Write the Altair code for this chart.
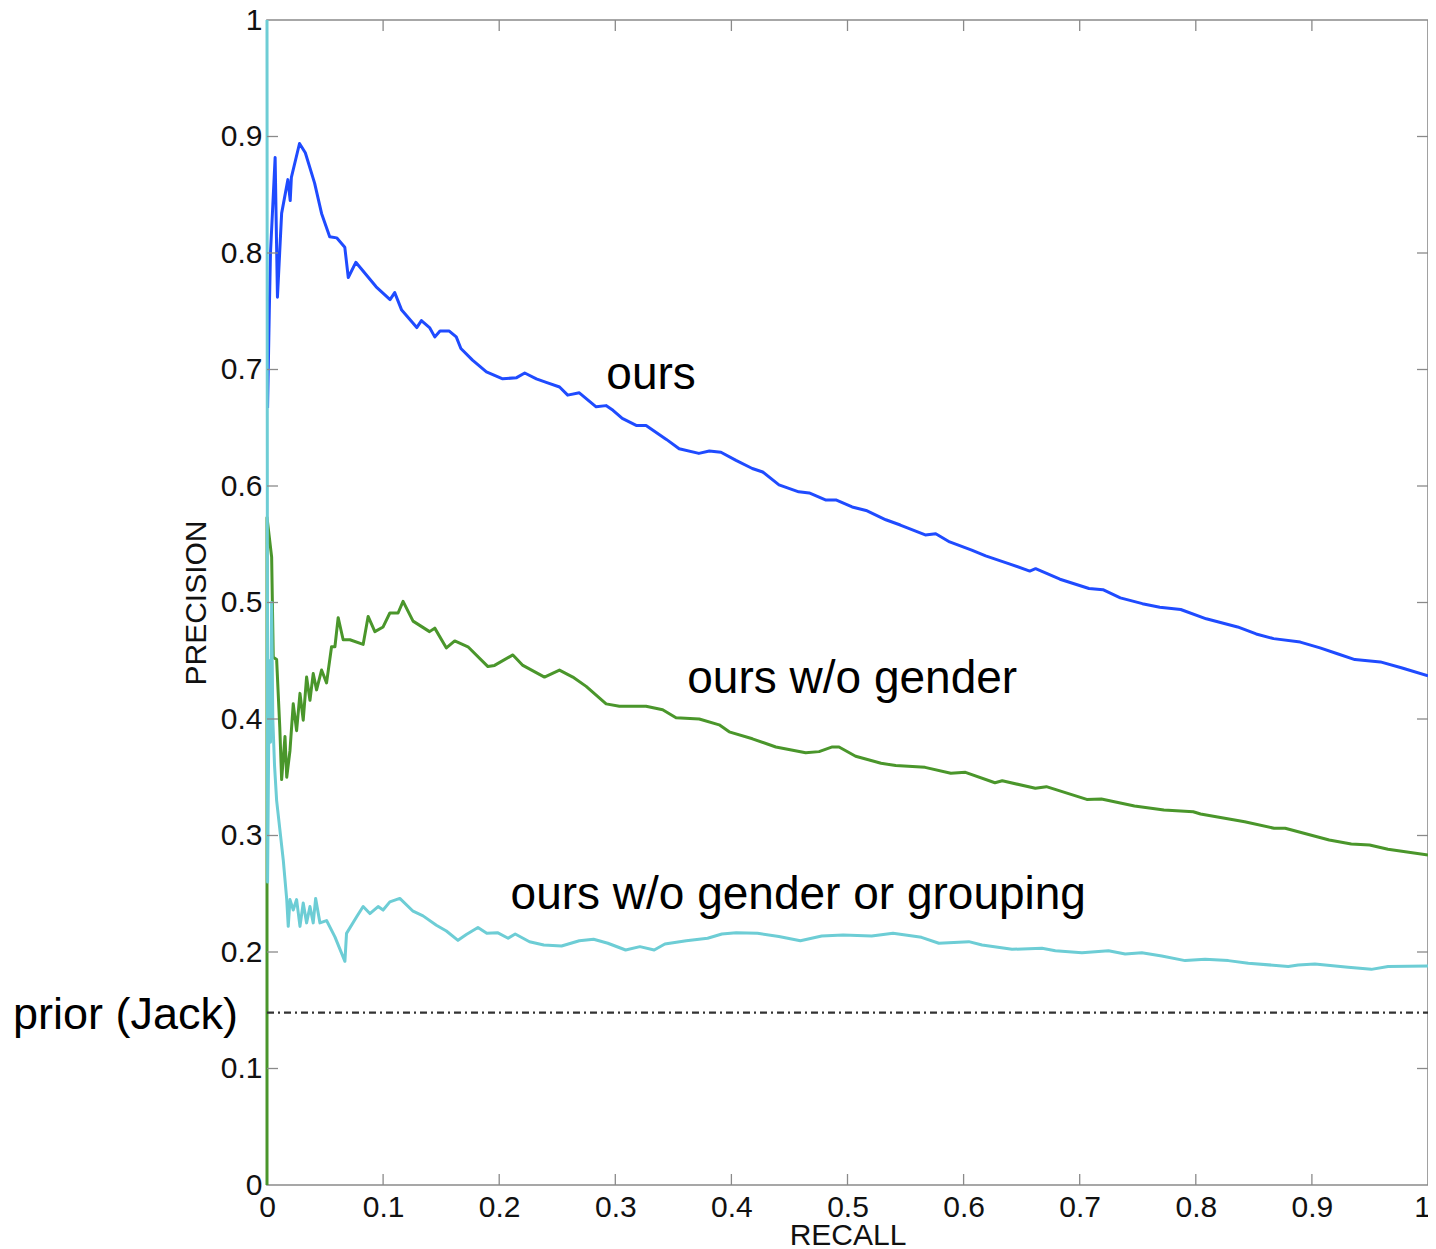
import altair as alt
import pandas as pd

# ---------------- data ----------------
blue_recall = [0.0005, 0.002, 0.003, 0.007, 0.009, 0.0126, 0.018, 0.020, 0.021, 0.028, 0.033, 0.041, 0.047,
               0.054, 0.060, 0.067, 0.070, 0.0765, 0.084, 0.094, 0.106, 0.110, 0.116, 0.129, 0.133, 0.140,
               0.1445, 0.149, 0.157, 0.163, 0.167, 0.177, 0.189, 0.203, 0.215, 0.222, 0.232, 0.2405, 0.252,
               0.259, 0.269, 0.2835, 0.292, 0.298, 0.306, 0.318, 0.3265, 0.344, 0.355, 0.372, 0.381, 0.391,
               0.404, 0.418, 0.427, 0.441, 0.458, 0.467, 0.481, 0.490, 0.504, 0.516, 0.533, 0.5455, 0.567,
               0.576, 0.588, 0.607, 0.619, 0.640, 0.657, 0.662, 0.683, 0.708, 0.720, 0.735, 0.754, 0.769,
               0.787, 0.809, 0.836, 0.852, 0.867, 0.890, 0.907, 0.922, 0.937, 0.959, 0.977, 1.000]
blue_precision = [0.667, 0.751, 0.800, 0.882, 0.762, 0.834, 0.863, 0.845, 0.865, 0.894, 0.886, 0.860, 0.834,
                  0.814, 0.813, 0.805, 0.779, 0.792, 0.783, 0.771, 0.760, 0.766, 0.751, 0.736, 0.742, 0.736,
                  0.728, 0.733, 0.733, 0.728, 0.718, 0.708, 0.698, 0.692, 0.693, 0.697, 0.692, 0.689, 0.685,
                  0.678, 0.680, 0.668, 0.669, 0.665, 0.658, 0.652, 0.652, 0.640, 0.632, 0.628, 0.630, 0.629,
                  0.622, 0.615, 0.612, 0.601, 0.595, 0.594, 0.588, 0.588, 0.582, 0.579, 0.571, 0.5665, 0.558,
                  0.559, 0.552, 0.545, 0.540, 0.533, 0.527, 0.529, 0.520, 0.512, 0.511, 0.504, 0.499, 0.496,
                  0.494, 0.486, 0.479, 0.473, 0.469, 0.466, 0.461, 0.456, 0.451, 0.449, 0.444, 0.437]

green_recall = [0.0, 0.0, 0.004, 0.0054, 0.0083, 0.011, 0.0126, 0.0155, 0.017, 0.0198, 0.0226, 0.0255, 0.0284,
                0.0312, 0.0341, 0.037, 0.0398, 0.0427, 0.047, 0.0513, 0.0556, 0.0585, 0.0613, 0.0656, 0.0714,
                0.0828, 0.0871, 0.0929, 0.100, 0.1058, 0.1129, 0.1172, 0.1258, 0.140, 0.1445, 0.1545, 0.1617,
                0.1731, 0.1903, 0.196, 0.2118, 0.2204, 0.239, 0.2519, 0.2634, 0.2749, 0.2921, 0.3035, 0.315,
                0.3265, 0.3408, 0.3523, 0.3723, 0.3895, 0.3981, 0.4181, 0.4383, 0.464, 0.4755, 0.4869, 0.4927,
                0.507, 0.5289, 0.5415, 0.5668, 0.589, 0.6016, 0.627, 0.6333, 0.6618, 0.6713, 0.7061, 0.7187,
                0.7472, 0.7725, 0.7978, 0.8041, 0.8421, 0.8674, 0.877, 0.9149, 0.9339, 0.9497, 0.9655, 1.0]
green_precision = [0.0, 0.573, 0.539, 0.453, 0.451, 0.393, 0.348, 0.385, 0.350, 0.373, 0.413, 0.390, 0.422,
                   0.399, 0.436, 0.416, 0.439, 0.425, 0.442, 0.431, 0.462, 0.462, 0.487, 0.468, 0.468,
                   0.464, 0.488, 0.475, 0.479, 0.491, 0.491, 0.501, 0.484, 0.475, 0.478, 0.461, 0.467,
                   0.462, 0.445, 0.446, 0.455, 0.446, 0.436, 0.442, 0.436, 0.428, 0.413, 0.411, 0.411,
                   0.411, 0.408, 0.401, 0.400, 0.395, 0.389, 0.383, 0.376, 0.371, 0.372, 0.376, 0.376,
                   0.368, 0.362, 0.360, 0.3585, 0.3534, 0.3542, 0.3453, 0.347, 0.3405, 0.3419, 0.331, 0.3313,
                   0.3253, 0.3219, 0.3204, 0.3185, 0.3118, 0.3062, 0.3062, 0.2961, 0.2927, 0.2918, 0.2882, 0.2833]

cyan_recall = [0.0, 0.0005, 0.002, 0.003, 0.004, 0.005, 0.0065, 0.0083, 0.014, 0.017, 0.0183, 0.0198, 0.0226,
               0.0255, 0.0284, 0.0312, 0.0341, 0.037, 0.0398, 0.0419, 0.0456, 0.0513, 0.0585, 0.0671, 0.0685,
               0.0771, 0.0828, 0.0886, 0.0957, 0.100, 0.1058, 0.1144, 0.1258, 0.1344, 0.1459, 0.1545, 0.1645,
               0.1717, 0.1817, 0.1893, 0.1985, 0.2077, 0.2138, 0.2261, 0.2384, 0.2537, 0.269, 0.2813, 0.2936,
               0.3089, 0.3212, 0.3335, 0.3427, 0.3611, 0.3795, 0.3918, 0.4041, 0.4225, 0.4409, 0.4594, 0.4778,
               0.4962, 0.5208, 0.5392, 0.5637, 0.5787, 0.6045, 0.6159, 0.6417, 0.6675, 0.679, 0.7019, 0.7248,
               0.7392, 0.7535, 0.7707, 0.7908, 0.808, 0.828, 0.8452, 0.8796, 0.8882, 0.9026, 0.9312, 0.9512,
               0.9656, 1.0]
cyan_precision = [1.0, 0.26, 0.45, 0.38, 0.50, 0.40, 0.36, 0.330, 0.279, 0.245, 0.222, 0.245, 0.236,
                  0.245, 0.222, 0.242, 0.225, 0.239, 0.225, 0.246, 0.225, 0.227, 0.213, 0.192, 0.216,
                  0.230, 0.239, 0.233, 0.239, 0.236, 0.243, 0.246, 0.235, 0.231, 0.223, 0.218, 0.210,
                  0.215, 0.221, 0.216, 0.2166, 0.2118, 0.2155, 0.2088, 0.206, 0.2052, 0.2097, 0.2109, 0.2075,
                  0.2017, 0.2046, 0.2017, 0.2069, 0.2097, 0.2118, 0.2155, 0.2166, 0.2161, 0.2133, 0.2097, 0.2137,
                  0.2146, 0.2137, 0.2161, 0.2126, 0.2075, 0.2089, 0.206, 0.2023, 0.2032, 0.2011, 0.1994, 0.2011,
                  0.1983, 0.1994, 0.1966, 0.1926, 0.1938, 0.1926, 0.1904, 0.1876, 0.1888, 0.1897, 0.1869, 0.1851,
                  0.1876, 0.188]

prior_precision = 0.148

series_names = ["ours", "ours w/o gender", "ours w/o gender or grouping"]
series_colors = ["#1f4bff", "#4a962b", "#6dcdd5"]

axis_values = [0, 0.1, 0.2, 0.3, 0.4, 0.5, 0.6, 0.7, 0.8, 0.9, 1]
inner_ticks = [0.1, 0.2, 0.3, 0.4, 0.5, 0.6, 0.7, 0.8, 0.9]

label_texts = ["ours", "ours w/o gender", "ours w/o gender or grouping"]
label_x = [0.2923, 0.362, 0.2098]
label_y = [0.683, 0.4223, 0.237]
prior_text = "prior (Jack)"
prior_label_x = -0.025
prior_label_y = 0.134

# ---------------- build ----------------
W, H = 1161, 1165
FONT = "Liberation Sans"
FRAME = "#8a8a8a"

rows = []
for name, xs, ys in zip(series_names,
                        [blue_recall, green_recall, cyan_recall],
                        [blue_precision, green_precision, cyan_precision]):
    for i, (a, b) in enumerate(zip(xs, ys)):
        rows.append({"series": name, "recall": a, "precision": b, "i": i})
curves = pd.DataFrame(rows)

xscale = alt.Scale(domain=[0, 1], nice=False, zero=False)
yscale = alt.Scale(domain=[0, 1], nice=False, zero=False)

xaxis = alt.Axis(values=axis_values, format=".1~f", title="RECALL", ticks=False, domain=False,
                 grid=False, labelFont=FONT, labelFontSize=30, labelColor="#111",
                 labelPadding=7, titleFont=FONT, titleFontSize=30, titleFontWeight="normal",
                 titleColor="#111", titlePadding=-2, labelFlush=False,
                 labelOffset={"condition": {"test": "datum.value == 1", "value": -6}, "value": 0})
yaxis = alt.Axis(values=axis_values, format=".1~f", title="PRECISION", ticks=False, domain=False,
                 grid=False, labelFont=FONT, labelFontSize=30, labelColor="#111",
                 labelPadding=5, titleFont=FONT, titleFontSize=30, titleFontWeight="normal",
                 titleColor="#111", titlePadding=9, labelFlush=False)


def X(field):
    return alt.X(field, scale=xscale, axis=xaxis, title="RECALL")


def Y(field):
    return alt.Y(field, scale=yscale, axis=yaxis, title="PRECISION")


lines = alt.Chart(curves).mark_line(strokeWidth=3, strokeJoin="round").encode(
    x=X("recall:Q"),
    y=Y("precision:Q"),
    color=alt.Color("series:N", scale=alt.Scale(domain=series_names, range=series_colors), legend=None),
    order=alt.Order("i:Q"),
)

prior_df = pd.DataFrame({"p": [prior_precision], "x0": [0.0], "x1": [1.0]})
prior = alt.Chart(prior_df).mark_rule(color="#333333", strokeWidth=2.2, strokeDash=[7, 4, 2, 4]).encode(
    x=X("x0:Q"), x2="x1:Q", y=Y("p:Q")
)

tick_df = pd.DataFrame({"t": inner_ticks})
tick_style = dict(color=FRAME, strokeWidth=1.3)
t_bottom = alt.Chart(tick_df).mark_rule(**tick_style).encode(
    x=X("t:Q"), y=alt.value(H), y2=alt.value(H - 11))
t_top = alt.Chart(tick_df).mark_rule(**tick_style).encode(
    x=X("t:Q"), y=alt.value(0), y2=alt.value(11))
t_left = alt.Chart(tick_df).mark_rule(**tick_style).encode(
    y=Y("t:Q"), x=alt.value(0), x2=alt.value(11))
t_right = alt.Chart(tick_df).mark_rule(**tick_style).encode(
    y=Y("t:Q"), x=alt.value(W), x2=alt.value(W - 11))

lab_df = pd.DataFrame({"label": label_texts, "lx": label_x, "ly": label_y})
labels = alt.Chart(lab_df).mark_text(align="left", baseline="alphabetic", font=FONT, fontSize=46,
                                     color="#000").encode(
    x=X("lx:Q"), y=Y("ly:Q"), text="label:N")

prior_lab_df = pd.DataFrame({"label": [prior_text], "lx": [prior_label_x], "ly": [prior_label_y]})
prior_label = alt.Chart(prior_lab_df).mark_text(align="right", baseline="alphabetic", font=FONT, fontSize=45,
                                                color="#000").encode(
    x=X("lx:Q"), y=Y("ly:Q"), text="label:N")

chart = alt.layer(lines, prior, t_bottom, t_top, t_left, t_right, labels, prior_label).properties(
    width=W, height=H,
    autosize=alt.AutoSizeParams(type="none"),
    padding={"left": 259, "top": 12, "right": 0, "bottom": 64},
    background="white",
).configure_view(stroke=FRAME, strokeWidth=1.6)

chart.save("out.html", embed_options={"renderer": "svg", "actions": False})
